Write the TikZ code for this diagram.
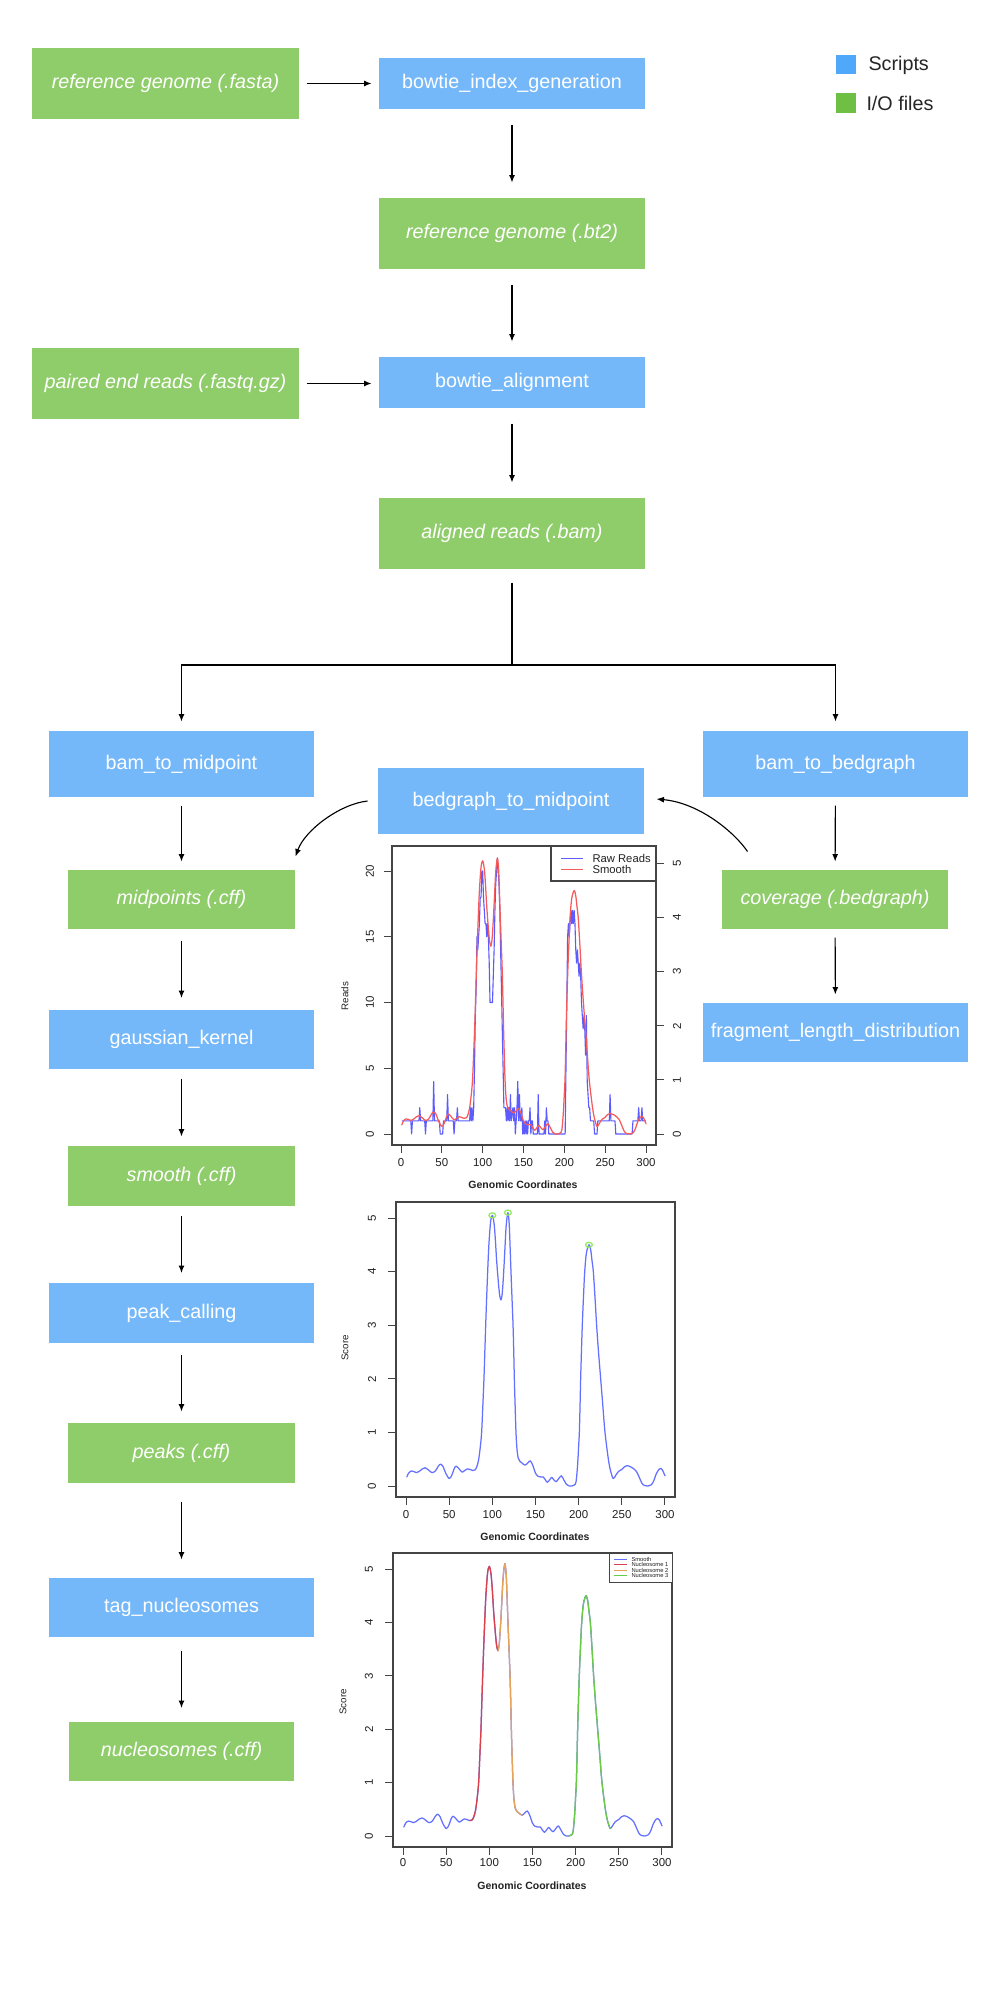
\documentclass[tikz,border=0pt]{standalone}
\usepackage{fontspec}
\setmainfont{Liberation Sans}
\usetikzlibrary{arrows.meta}
\definecolor{boxblue}{HTML}{74B8F9}
\definecolor{boxgreen}{HTML}{8FCC6A}
\definecolor{legblue}{HTML}{4FA8F9}
\definecolor{leggreen}{HTML}{6EBF44}
\definecolor{rawblue}{HTML}{5B5BFF}
\definecolor{smred}{HTML}{F65B5B}
\definecolor{scoreblue}{HTML}{6470FF}
\definecolor{nucred}{HTML}{D8404C}
\definecolor{nucorange}{HTML}{E6A35C}
\definecolor{nucgreen}{HTML}{6ACB48}
\definecolor{peakring}{HTML}{93EC5E}
\definecolor{framegray}{HTML}{444444}
\definecolor{labgray}{HTML}{222222}
\begin{document}
\begin{tikzpicture}[x=0.4pt,y=-0.4pt,
  script/.style={fill=boxblue,text=white,inner sep=0pt,font=\fontsize{7.9}{9}\selectfont,minimum width=106pt,minimum height=26.4pt},
  iofile/.style={fill=boxgreen,text=white,inner sep=0pt,font=\fontsize{7.9}{9}\selectfont\itshape,minimum width=90.8pt,minimum height=23.6pt},
  arr/.style={draw=black,line width=0.45pt,-{Latex[length=3pt,width=2.4pt]}},
  conn/.style={draw=black,line width=0.45pt},
  frame/.style={draw=framegray,line width=0.45pt},
  tick/.style={draw=framegray,line width=0.4pt},
  ticklab/.style={text=labgray,inner sep=0pt,font=\fontsize{4.6}{5}\selectfont},
  axtitle/.style={text=labgray,inner sep=0pt,font=\fontsize{3.9}{4.5}\selectfont},
  xtitle/.style={text=labgray,inner sep=0pt,font=\fontsize{4.2}{5}\selectfont\bfseries},
  legtext/.style={text=labgray,inner sep=0pt,anchor=west,font=\fontsize{4.5}{5}\selectfont},
  tinylegtext/.style={text=labgray,inner sep=0pt,anchor=west,font=\fontsize{2.3}{2.6}\selectfont},
  curve/.style={line width=0.5pt,line join=round,line cap=round},
  legsq/.style={inner sep=0pt,minimum width=8pt,minimum height=7.8pt},
  legfont/.style={inner sep=0pt,anchor=west,text=black!85,font=\fontsize{7.9}{9}\selectfont},
]
\fill[white] (0,0) rectangle (1000,2000);
\useasboundingbox (0,0) rectangle (1000,2000);

% ---------- legend ----------
\node[legsq,fill=legblue] (lsq1) at (846,64.5) {};
\node[legfont] (ltx1) at (868,65) {Scripts};
\node[legsq,fill=leggreen] (lsq2) at (846,103) {};
\node[legfont] (ltx2) at (866,103) {I/O files};

% ---------- boxes ----------
\node[iofile,minimum width=106.8pt,minimum height=28.4pt] (fasta) at (165.5,83.5) {reference genome (.fasta)};
\node[script,minimum width=106.4pt,minimum height=20.4pt] (index) at (512,83.5) {bowtie\_index\_generation};
\node[iofile,minimum width=106.4pt,minimum height=28.4pt] (bt2) at (512,233.5) {reference genome (.bt2)};
\node[iofile,minimum width=106.8pt,minimum height=28.4pt] (paired) at (165.5,383.5) {paired end reads (.fastq.gz)};
\node[script,minimum width=106.4pt,minimum height=20.4pt] (align) at (512,382.5) {bowtie\_alignment};
\node[iofile,minimum width=106.4pt,minimum height=28.4pt] (aligned) at (512,533.5) {aligned reads (.bam)};
\node[script] (btm) at (181.5,764) {bam\_to\_midpoint};
\node[script] (btb) at (835.5,764) {bam\_to\_bedgraph};
\node[script,minimum width=106.4pt] (bgm) at (511,801) {bedgraph\_to\_midpoint};
\node[iofile] (mid) at (181.5,899.5) {midpoints (.cff)};
\node[iofile,minimum width=90.4pt] (cov) at (835,899.5) {coverage (.bedgraph)};
\node[script,minimum height=23.6pt] (gk) at (181.5,1039.5) {gaussian\_kernel};
\node[script,minimum height=23.6pt] (fld) at (835.5,1032.5) {fragment\_length\_distribution};
\node[iofile,minimum height=24pt] (smooth) at (181.5,1176) {smooth (.cff)};
\node[script,minimum height=24pt] (peak) at (181.5,1313) {peak\_calling};
\node[iofile,minimum width=90.4pt,minimum height=24pt] (peaks) at (181.5,1453) {peaks (.cff)};
\node[script,minimum height=23.6pt] (tag) at (181.5,1607.5) {tag\_nucleosomes};
\node[iofile,minimum width=90pt] (nuc) at (181.5,1751.5) {nucleosomes (.cff)};

% ---------- connectors ----------
\draw[arr,shorten <=2.8pt,shorten >=2.8pt] (fasta) -- (index);
\draw[arr,shorten <=2.8pt,shorten >=2.8pt] (paired.east) -- (align.west |- paired.east);
\draw[arr,shorten <=6pt,shorten >=6pt] (index) -- (bt2);
\draw[arr,shorten <=6pt,shorten >=6pt] (bt2) -- (align);
\draw[arr,shorten <=6pt,shorten >=6pt] (align) -- (aligned);
\coordinate (br) at (512,665);
\draw[conn,shorten <=5.2pt] (aligned) -- (br);
\draw[arr,shorten >=3.6pt] (br) -| (btm);
\draw[arr,shorten >=3.6pt] (br) -| (btb);
\draw[arr,shorten <=3.2pt,shorten >=3.2pt] (btm) -- (mid);
\draw[arr,shorten <=4.6pt,shorten >=4.6pt] (mid) -- (gk);
\draw[arr,shorten <=3.6pt,shorten >=3.6pt] (gk) -- (smooth);
\draw[arr,shorten <=3.8pt,shorten >=3.8pt] (smooth) -- (peak);
\draw[arr,shorten <=4.4pt,shorten >=4.4pt] (peak) -- (peaks);
\draw[arr,shorten <=7.2pt,shorten >=7.2pt] (peaks) -- (tag);
\draw[arr,shorten <=5.4pt,shorten >=5.4pt] (tag) -- (nuc);
\draw[arr,shorten <=3.2pt,shorten >=3.2pt] (btb) -- (cov);
\draw[arr,shorten <=3.2pt,shorten >=3.2pt] (cov) -- (fld);
\draw[arr] ([xshift=-4pt]bgm.west) .. controls (340,804) and (305,830) .. ([yshift=5.2pt]mid.north east);
\draw[arr] ([xshift=10.4pt,yshift=7.2pt]cov.north west) .. controls (735,833) and (700,803) .. ([xshift=4.8pt,yshift=0.8pt]bgm.east);

% ================= PLOT 1 =================
\draw[frame] (392,846) rectangle (656,1145);
\begin{scope}[shift={(401,1134)},xscale=0.8167,yscale=-13.15]
\draw[curve,rawblue,line cap=butt,line width=0.45pt] plot coordinates {(1,1) (12,1) (13,0) (14,1) (22,1) (23,2) (24,1) (29,1) (30,0) (31,1) (39,1) (40,4) (41,1) (47,1) (48,0) (51,0) (52,1) (56,1) (57,3) (58,1) (64,1) (65,0) (66,1) (68,1) (69,2) (70,1) (84,1) (85,2) (86,1) (87,2) (88,1) (89,2) (90,5) (91,9) (92,11) (93,15) (94,14) (95,15) (96,16) (97,18) (98,18) (99,20) (100,20) (101,18) (102,17) (103,16) (104,16) (105,15) (106,16) (107,15) (108,13) (109,10) (112,10) (113,12) (114,14) (115,17) (116,19) (117,20) (118,21) (119,20) (120,19) (121,17) (122,14) (123,11) (124,8) (125,5) (126,2) (128,2) (129,1) (130,2) (131,1) (132,2) (133,1) (134,3) (135,1) (137,2) (138,1) (139,2) (140,0) (141,1) (142,2) (143,4) (144,1) (145,3) (146,1) (147,1) (148,2) (149,0) (150,1) (151,0) (152,1) (153,0) (154,1) (155,0) (156,1) (157,1) (158,2) (159,0) (160,1) (161,1) (162,0) (167,0) (168,3) (169,0) (170,0) (175,0) (176,1) (177,0) (178,2) (179,1) (180,1) (181,0) (201,0) (202,5) (203,10) (204,15) (205,16) (206,15) (207,16) (208,17) (209,16) (210,17) (211,16) (212,17) (213,16) (214,14) (215,13) (216,14) (217,13) (218,12) (219,13) (220,12) (221,10) (222,9) (223,8) (224,9) (225,8) (226,6) (227,9) (228,4) (229,3) (230,2) (231,2) (232,1) (236,1) (237,0) (240,0) (241,1) (255,1) (256,3) (257,1) (262,1) (263,0) (283,0) (284,1) (290,1) (291,2) (292,1) (294,1) (295,2) (296,1) (300,1)};
\end{scope}
\begin{scope}[shift={(401,1134)},xscale=0.8167,yscale=-54.1]
\draw[curve,smred] plot[smooth] coordinates {(1,0.17) (3,0.24) (6,0.28) (9,0.27) (12,0.25) (15,0.27) (19,0.32) (22,0.34) (26,0.3) (30,0.25) (34,0.28) (37,0.36) (40,0.41) (43,0.36) (46,0.24) (50,0.14) (53,0.2) (56,0.33) (58,0.37) (61,0.33) (65,0.26) (68,0.29) (71,0.32) (74,0.31) (77,0.29) (80,0.3) (82,0.36) (84,0.48) (86,0.72) (87.6,1.0) (89,1.5) (90.3,2.0) (91.3,2.5) (92.3,3.0) (93.4,3.5) (94.6,4.0) (96,4.5) (98,4.93) (100,5.05) (102,4.9) (103.5,4.6) (105,4.2) (107,3.8) (108.5,3.56) (110,3.47) (111.5,3.6) (113,3.95) (114.5,4.4) (116,4.85) (118,5.1) (119.5,4.9) (120.5,4.5) (121.6,4.0) (122.8,3.5) (124,3.0) (124.8,2.5) (125.5,2.0) (126.4,1.5) (127.4,1.0) (128.5,0.7) (130,0.52) (132,0.46) (135,0.42) (138,0.39) (141,0.43) (144,0.47) (147,0.38) (150,0.24) (153,0.18) (156,0.17) (159,0.17) (162,0.1) (164,0.07) (167,0.13) (169,0.16) (172,0.1) (174,0.08) (177,0.14) (180,0.19) (183,0.11) (186,0.03) (189,0.0) (192,0.0) (195,0.02) (197,0.08) (198.8,0.4) (200,0.75) (200.8,1.0) (201.6,1.5) (202.3,2.0) (203.2,2.5) (204.2,3.0) (205.5,3.5) (207,4.0) (209,4.35) (212,4.5) (214,4.4) (215.5,4.2) (217,4.0) (219,3.5) (220.8,3.0) (223,2.5) (225.5,2.0) (228,1.5) (230.5,1.0) (234.4,0.5) (237,0.28) (240,0.14) (243,0.2) (246,0.27) (250,0.31) (253,0.36) (256,0.38) (260,0.36) (264,0.32) (267,0.27) (270,0.17) (273,0.06) (276,0.01) (280,0.0) (284,0.02) (287,0.1) (290,0.23) (293,0.31) (295,0.33) (297,0.3) (300,0.19)};
\end{scope}
\foreach \v in {0,50,...,300} {
  \draw[tick] ({401+0.8167*\v},1145) -- ++(0,8);
  \node[ticklab] (ax1\v) at ({401+0.8167*\v},1163) {\v};
}
\foreach \v in {0,5,...,20} {
  \draw[tick] (392,{1134-13.15*\v}) -- ++(-8,0);
  \node[ticklab,rotate=90] (ay1\v) at (370,{1134-13.15*\v}) {\v};
}
\foreach \v in {0,...,5} {
  \draw[tick] (656,{1134-54.1*\v}) -- ++(8,0);
  \node[ticklab,rotate=90] (ar1\v) at (677,{1134-54.1*\v}) {\v};
}
\node[xtitle] (xt1) at (523,1185) {Genomic Coordinates};
\node[axtitle,rotate=90] (yt1) at (345,996) {Reads};
\draw[frame,fill=white] (551,846) rectangle (656,881);
\draw[rawblue,line width=0.45pt] (561,858.7) -- (583,858.7);
\draw[smred,line width=0.45pt] (561,869.7) -- (583,869.7);
\node[legtext] (lg1a) at (592,858.7) {Raw Reads};
\node[legtext] (lg1b) at (592,869.7) {Smooth};

% ================= PLOT 2 =================
\draw[frame] (396,1202) rectangle (675,1497);
\begin{scope}[shift={(406,1486)},xscale=0.8633,yscale=-53.6]
\draw[curve,scoreblue] plot[smooth] coordinates {(1,0.17) (3,0.24) (6,0.28) (9,0.27) (12,0.25) (15,0.27) (19,0.32) (22,0.34) (26,0.3) (30,0.25) (34,0.28) (37,0.36) (40,0.41) (43,0.36) (46,0.24) (50,0.14) (53,0.2) (56,0.33) (58,0.37) (61,0.33) (65,0.26) (68,0.29) (71,0.32) (74,0.31) (77,0.29) (80,0.3) (82,0.36) (84,0.48) (86,0.72) (87.6,1.0) (89,1.5) (90.3,2.0) (91.3,2.5) (92.3,3.0) (93.4,3.5) (94.6,4.0) (96,4.5) (98,4.93) (100,5.05) (102,4.9) (103.5,4.6) (105,4.2) (107,3.8) (108.5,3.56) (110,3.47) (111.5,3.6) (113,3.95) (114.5,4.4) (116,4.85) (118,5.1) (119.5,4.9) (120.5,4.5) (121.6,4.0) (122.8,3.5) (124,3.0) (124.8,2.5) (125.5,2.0) (126.4,1.5) (127.4,1.0) (128.5,0.7) (130,0.52) (132,0.46) (135,0.42) (138,0.39) (141,0.43) (144,0.47) (147,0.38) (150,0.24) (153,0.18) (156,0.17) (159,0.17) (162,0.1) (164,0.07) (167,0.13) (169,0.16) (172,0.1) (174,0.08) (177,0.14) (180,0.19) (183,0.11) (186,0.03) (189,0.0) (192,0.0) (195,0.02) (197,0.08) (198.8,0.4) (200,0.75) (200.8,1.0) (201.6,1.5) (202.3,2.0) (203.2,2.5) (204.2,3.0) (205.5,3.5) (207,4.0) (209,4.35) (212,4.5) (214,4.4) (215.5,4.2) (217,4.0) (219,3.5) (220.8,3.0) (223,2.5) (225.5,2.0) (228,1.5) (230.5,1.0) (234.4,0.5) (237,0.28) (240,0.14) (243,0.2) (246,0.27) (250,0.31) (253,0.36) (256,0.38) (260,0.36) (264,0.32) (267,0.27) (270,0.17) (273,0.06) (276,0.01) (280,0.0) (284,0.02) (287,0.1) (290,0.23) (293,0.31) (295,0.33) (297,0.3) (300,0.19)};
\end{scope}
\draw[peakring,line width=0.5pt] (492.3,1215.3) ellipse [x radius=3.4, y radius=2.5];
\draw[peakring,line width=0.5pt] (507.9,1212.6) ellipse [x radius=3.4, y radius=2.5];
\draw[peakring,line width=0.5pt] (589,1244.8) ellipse [x radius=3.4, y radius=2.5];
\foreach \v in {0,50,...,300} {
  \draw[tick] ({406+0.8633*\v},1497) -- ++(0,8);
  \node[ticklab] (ax2\v) at ({406+0.8633*\v},1515) {\v};
}
\foreach \v in {0,...,5} {
  \draw[tick] (396,{1486-53.6*\v}) -- ++(-8,0);
  \node[ticklab,rotate=90] (ay2\v) at (372,{1486-53.6*\v}) {\v};
}
\node[xtitle] (xt2) at (535,1537) {Genomic Coordinates};
\node[axtitle,rotate=90] (yt2) at (345,1348) {Score};

% ================= PLOT 3 =================
\draw[frame] (393,1553) rectangle (672,1847);
\begin{scope}[shift={(403,1836)},xscale=0.8633,yscale=-53.4]
\draw[curve,scoreblue] plot[smooth] coordinates {(1,0.17) (3,0.24) (6,0.28) (9,0.27) (12,0.25) (15,0.27) (19,0.32) (22,0.34) (26,0.3) (30,0.25) (34,0.28) (37,0.36) (40,0.41) (43,0.36) (46,0.24) (50,0.14) (53,0.2) (56,0.33) (58,0.37) (61,0.33) (65,0.26) (68,0.29) (71,0.32) (74,0.31) (77,0.29) (80,0.3) (82,0.36) (84,0.48) (86,0.72) (87.6,1.0) (89,1.5) (90.3,2.0) (91.3,2.5) (92.3,3.0) (93.4,3.5) (94.6,4.0) (96,4.5) (98,4.93) (100,5.05) (102,4.9) (103.5,4.6) (105,4.2) (107,3.8) (108.5,3.56) (110,3.47) (111.5,3.6) (113,3.95) (114.5,4.4) (116,4.85) (118,5.1) (119.5,4.9) (120.5,4.5) (121.6,4.0) (122.8,3.5) (124,3.0) (124.8,2.5) (125.5,2.0) (126.4,1.5) (127.4,1.0) (128.5,0.7) (130,0.52) (132,0.46) (135,0.42) (138,0.39) (141,0.43) (144,0.47) (147,0.38) (150,0.24) (153,0.18) (156,0.17) (159,0.17) (162,0.1) (164,0.07) (167,0.13) (169,0.16) (172,0.1) (174,0.08) (177,0.14) (180,0.19) (183,0.11) (186,0.03) (189,0.0) (192,0.0) (195,0.02) (197,0.08) (198.8,0.4) (200,0.75) (200.8,1.0) (201.6,1.5) (202.3,2.0) (203.2,2.5) (204.2,3.0) (205.5,3.5) (207,4.0) (209,4.35) (212,4.5) (214,4.4) (215.5,4.2) (217,4.0) (219,3.5) (220.8,3.0) (223,2.5) (225.5,2.0) (228,1.5) (230.5,1.0) (234.4,0.5) (237,0.28) (240,0.14) (243,0.2) (246,0.27) (250,0.31) (253,0.36) (256,0.38) (260,0.36) (264,0.32) (267,0.27) (270,0.17) (273,0.06) (276,0.01) (280,0.0) (284,0.02) (287,0.1) (290,0.23) (293,0.31) (295,0.33) (297,0.3) (300,0.19)};
\draw[curve,nucred] plot[smooth] coordinates {(77,0.29) (80,0.3) (82,0.36) (84,0.48) (86,0.72) (87.6,1.0) (89,1.5) (90.3,2.0) (91.3,2.5) (92.3,3.0) (93.4,3.5) (94.6,4.0) (96,4.5) (98,4.93) (100,5.05) (102,4.9) (103.5,4.6) (105,4.2) (107,3.8) (108.5,3.56) (110,3.47)};
\draw[curve,nucorange] plot[smooth] coordinates {(110,3.47) (111.5,3.6) (113,3.95) (114.5,4.4) (116,4.85) (118,5.1) (119.5,4.9) (120.5,4.5) (121.6,4.0) (122.8,3.5) (124,3.0) (124.8,2.5) (125.5,2.0) (126.4,1.5) (127.4,1.0) (128.5,0.7) (130,0.52) (132,0.46) (135,0.42) (138,0.39)};
\draw[curve,nucgreen] plot[smooth] coordinates {(192,0.0) (195,0.02) (197,0.08) (198.8,0.4) (200,0.75) (200.8,1.0) (201.6,1.5) (202.3,2.0) (203.2,2.5) (204.2,3.0) (205.5,3.5) (207,4.0) (209,4.35) (212,4.5) (214,4.4) (215.5,4.2) (217,4.0) (219,3.5) (220.8,3.0) (223,2.5) (225.5,2.0) (228,1.5) (230.5,1.0) (234.4,0.5) (237,0.28) (240,0.14)};
\end{scope}
\foreach \v in {0,50,...,300} {
  \draw[tick] ({403+0.8633*\v},1847) -- ++(0,8);
  \node[ticklab] (ax3\v) at ({403+0.8633*\v},1863) {\v};
}
\foreach \v in {0,...,5} {
  \draw[tick] (393,{1836-53.4*\v}) -- ++(-8,0);
  \node[ticklab,rotate=90] (ay3\v) at (369,{1836-53.4*\v}) {\v};
}
\node[xtitle] (xt3) at (532,1886) {Genomic Coordinates};
\node[axtitle,rotate=90] (yt3) at (343,1702) {Score};
\draw[frame,fill=white,line width=0.35pt] (609,1553) rectangle (672,1582);
\draw[scoreblue,line width=0.35pt] (614,1559) -- (627,1559);
\draw[nucred,line width=0.35pt] (614,1564.5) -- (627,1564.5);
\draw[nucorange,line width=0.35pt] (614,1570) -- (627,1570);
\draw[nucgreen,line width=0.35pt] (614,1575.5) -- (627,1575.5);
\node[tinylegtext] (lg3a) at (631,1559) {Smooth};
\node[tinylegtext] (lg3b) at (631,1564.5) {Nucleosome 1};
\node[tinylegtext] (lg3c) at (631,1570) {Nucleosome 2};
\node[tinylegtext] (lg3d) at (631,1575.5) {Nucleosome 3};
\end{tikzpicture}
\end{document}
